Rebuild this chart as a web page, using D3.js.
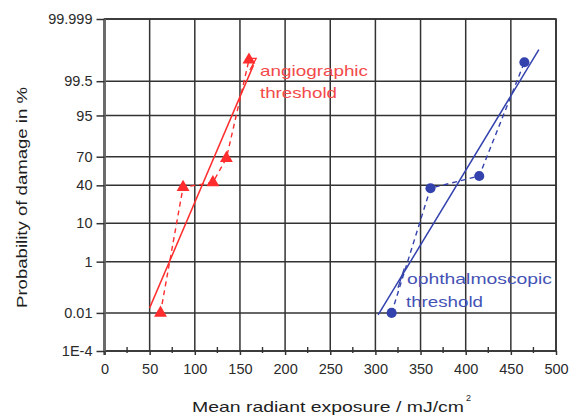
<!DOCTYPE html>
<html><head><meta charset="utf-8">
<script src="https://cdn.jsdelivr.net/npm/d3@7"></script>
<style>
html,body{margin:0;padding:0;background:#fff;}
svg{display:block;font-family:"Liberation Sans",Arial,sans-serif;}
</style></head>
<body>
<svg id="c" width="570" height="418"></svg>
<script>
// ---- data ----
const xTickValues = [0, 50, 100, 150, 200, 250, 300, 350, 400, 450, 500];
const xMinorValues = [25, 75, 125, 175, 225, 275, 325, 375, 425, 475];
const yTickValues = [0.0001, 0.01, 1, 10, 40, 70, 95, 99.5, 99.999];
const yTickLabels = ["1E-4", "0.01", "1", "10", "40", "70", "95", "99.5", "99.999"];

// angiographic threshold (red triangles)
const angioX = [62, 87, 120, 135, 160];
const angioP = [0.01, 38, 43, 68.5, 99.92];
const angioFitX = [50, 165];
const angioFitP = [0.017, 99.87];

// ophthalmoscopic threshold (blue circles)
const ophthX = [318, 361, 415, 465];
const ophthP = [0.01, 37, 50, 99.9];
const ophthFitX = [303, 481];
const ophthFitP = [0.008, 99.97];

const xTitle = "Mean radiant exposure / mJ/cm";
const yTitle = "Probability of damage in %";

// ---- probit transform (inverse normal CDF, Acklam) ----
function probit(p) {
  const a = [-3.969683028665376e+01, 2.209460984245205e+02, -2.759285104469687e+02, 1.383577518672690e+02, -3.066479806614716e+01, 2.506628277459239e+00];
  const b = [-5.447609879822406e+01, 1.615858368580409e+02, -1.556989798598866e+02, 6.680131188771972e+01, -1.328068155288572e+01];
  const c = [-7.784894002430293e-03, -3.223964580411365e-01, -2.400758277161838e+00, -2.549732539343734e+00, 4.374664141464968e+00, 2.938163982698783e+00];
  const d = [7.784695709041462e-03, 3.224671290700398e-01, 2.445134137142996e+00, 3.754408661907416e+00];
  const pl = 0.02425, ph = 1 - pl;
  let q, r;
  if (p < pl) {
    q = Math.sqrt(-2 * Math.log(p));
    return (((((c[0]*q+c[1])*q+c[2])*q+c[3])*q+c[4])*q+c[5]) / ((((d[0]*q+d[1])*q+d[2])*q+d[3])*q+1);
  } else if (p <= ph) {
    q = p - 0.5; r = q * q;
    return (((((a[0]*r+a[1])*r+a[2])*r+a[3])*r+a[4])*r+a[5])*q / (((((b[0]*r+b[1])*r+b[2])*r+b[3])*r+b[4])*r+1);
  } else {
    q = Math.sqrt(-2 * Math.log(1 - p));
    return -(((((c[0]*q+c[1])*q+c[2])*q+c[3])*q+c[4])*q+c[5]) / ((((d[0]*q+d[1])*q+d[2])*q+d[3])*q+1);
  }
}

const svg = d3.select("#c");
const L = 104.5, R = 556, T = 19, B = 351;
const x = d3.scaleLinear().domain([0, 500]).range([L, R]);
const yz = d3.scaleLinear().domain([probit(0.000001), probit(0.99999)]).range([B, T]);
const y = p => yz(probit(p / 100));

const gridColor = "#333";

// grid
const grid = svg.append("g");
xTickValues.forEach(v => {
  grid.append("line").attr("x1", x(v)).attr("x2", x(v)).attr("y1", T).attr("y2", B)
    .attr("stroke", v === 0 ? "#777" : gridColor).attr("stroke-width", v === 0 ? 2.5 : 1.5);
});
yTickValues.forEach(v => {
  grid.append("line").attr("x1", L).attr("x2", R).attr("y1", y(v)).attr("y2", y(v))
    .attr("stroke", gridColor).attr("stroke-width", 1.5);
});
// frame
svg.append("rect").attr("x", L).attr("y", T).attr("width", R - L).attr("height", B - T)
  .attr("fill", "none").attr("stroke", "#333").attr("stroke-width", 1.6);
svg.append("line").attr("x1", L).attr("x2", L).attr("y1", T).attr("y2", B + 4)
  .attr("stroke", "#6a6a6a").attr("stroke-width", 2.6);

// y axis
const yAxis = d3.axisLeft(yz)
  .tickValues(yTickValues.map(v => probit(v / 100)))
  .tickFormat((d, i) => yTickLabels[i])
  .tickSize(8).tickSizeOuter(0).tickPadding(4);
const gy = svg.append("g").attr("transform", `translate(${L},0)`).call(yAxis);
gy.select(".domain").remove();
gy.selectAll(".tick line").attr("stroke", "#333").attr("stroke-width", 1.5);
gy.selectAll(".tick text").attr("font-size", 14.5).attr("fill", "#2a2a2a")
  .attr("font-family", "Liberation Sans, Arial, sans-serif");

// x axis
const xAxis = d3.axisBottom(x).tickValues(xTickValues).tickFormat(d3.format("d"))
  .tickSize(4).tickSizeOuter(0).tickPadding(9);
const gx = svg.append("g").attr("transform", `translate(0,${B})`).call(xAxis);
gx.select(".domain").remove();
gx.selectAll(".tick line").attr("stroke", "#333").attr("stroke-width", 1.5);
gx.selectAll(".tick text").attr("font-size", 14.5).attr("fill", "#2a2a2a")
  .attr("font-family", "Liberation Sans, Arial, sans-serif");
// minor ticks
svg.append("g").selectAll("line").data(xMinorValues).join("line")
  .attr("x1", d => x(d)).attr("x2", d => x(d)).attr("y1", B - 4).attr("y2", B + 2)
  .attr("stroke", "#333").attr("stroke-width", 1.4);

// titles
svg.append("text").attr("x", 192).attr("y", 412).attr("font-size", 15).attr("fill", "#1e1e1e")
  .attr("textLength", 272).attr("lengthAdjust", "spacingAndGlyphs").text(xTitle);
svg.append("text").attr("x", 466).attr("y", 401).attr("font-size", 9).attr("fill", "#1e1e1e").text("2");
svg.append("text").attr("transform", "translate(27,308) rotate(-90)").attr("font-size", 15)
  .attr("fill", "#1e1e1e").attr("textLength", 221).attr("lengthAdjust", "spacingAndGlyphs").text(yTitle);

// series
const red = "#ff2d2d", blue = "#3342ad";
function series(xs, ps, fx, fp, color, sym) {
  const pts = xs.map((v, i) => [x(v), y(ps[i])]);
  const fit = fx.map((v, i) => [x(v), y(fp[i])]);
  const line = d3.line();
  svg.append("path").attr("d", line(fit)).attr("fill", "none").attr("stroke", color).attr("stroke-width", 1.5);
  svg.append("path").attr("d", line(pts)).attr("fill", "none").attr("stroke", color).attr("stroke-width", 1.4)
    .attr("stroke-dasharray", "5,4");
  svg.append("g").selectAll("path").data(pts).join("path")
    .attr("transform", d => `translate(${d[0]},${d[1]})`)
    .attr("d", d3.symbol().type(sym).size(sym === d3.symbolCircle ? 80 : 72))
    .attr("fill", color);
}
series(angioX, angioP, angioFitX, angioFitP, red, d3.symbolTriangle);
series(ophthX, ophthP, ophthFitX, ophthFitP, blue, d3.symbolCircle);

// annotations
const redText = "#f24a4a", blueText = "#4452b5";
const aT = svg.append("text").attr("font-size", 15).attr("fill", redText);
aT.append("tspan").attr("x", 260).attr("y", 76).attr("textLength", 108).attr("lengthAdjust", "spacingAndGlyphs").text("angiographic");
aT.append("tspan").attr("x", 260).attr("y", 98).attr("textLength", 77).attr("lengthAdjust", "spacingAndGlyphs").text("threshold");
svg.append("path").attr("d", d3.line()([[x(157), y(99.93)], [x(168), y(99.93)], [x(161), y(99.8)]]))
  .attr("fill", "none").attr("stroke", red).attr("stroke-width", 1.3);

const bT = svg.append("text").attr("font-size", 15).attr("fill", blueText);
bT.append("tspan").attr("x", 407).attr("y", 284).attr("textLength", 145).attr("lengthAdjust", "spacingAndGlyphs").text("ophthalmoscopic");
bT.append("tspan").attr("x", 406).attr("y", 307).attr("textLength", 77).attr("lengthAdjust", "spacingAndGlyphs").text("threshold");
svg.append("line").attr("x1", x(332)).attr("y1", y(0.6)).attr("x2", x(325)).attr("y2", y(0.12))
  .attr("stroke", blue).attr("stroke-width", 1.3);
</script>
</body></html>
